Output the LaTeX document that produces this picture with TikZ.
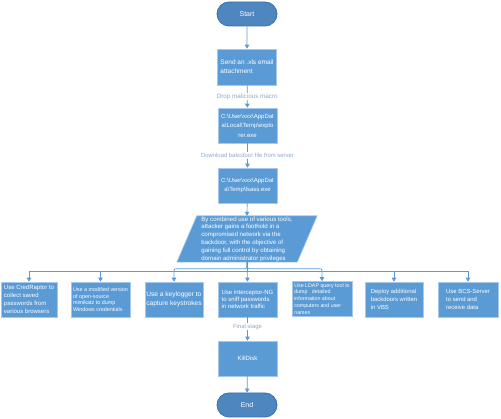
\documentclass[tikz,border=0pt]{standalone}
\usepackage{fontspec}
\setmainfont{Liberation Sans}
\usetikzlibrary{arrows.meta,shapes.misc}
\definecolor{boxblue}{HTML}{5B9BD5}
\definecolor{boxedge}{HTML}{A7C8EA}
\definecolor{termblue}{HTML}{4E86C0}
\definecolor{termedge}{HTML}{3B6FA6}
\definecolor{linkblue}{HTML}{5B9BD5}
\definecolor{lblcol}{HTML}{8EA9C9}
\newcommand{\bs}{\textbackslash}
\newcommand{\fs}[2]{\fontsize{#1}{#2}\selectfont}
\begin{document}
\begin{tikzpicture}[x=1pt,y=-1pt,
  proc/.style={rectangle,fill=boxblue,draw=boxedge,line width=0.6pt,text=white,
    minimum width=59pt,minimum height=35pt,inner sep=0pt,align=left},
  term/.style={rounded rectangle,fill=termblue,draw=termedge,line width=0.8pt,
    text=white,minimum width=60pt,minimum height=24pt,inner sep=0pt},
  txt/.style={text=white,inner sep=0pt,align=left},
  link/.style={draw=linkblue,line width=0.7pt,-{Triangle[width=4.5pt,length=4pt]}},
  lbl/.style={fill=white,text=lblcol,inner sep=1pt}]
\useasboundingbox (0,0) rectangle (501,419);

% main column
\node[term,font=\fs{7}{8}] (start) at (247,14) {Start};
\node[proc,minimum height=36pt,font=\fs{6.5}{9}] (send) at (247,67) {Send an .xls email\\attachment};
\node[proc,align=center,font=\fs{6}{9.5}] (expl) at (247.5,125.5) {C:\bs User\bs xxx\bs AppDat\\a\bs Local\bs Temp\bs explo\\rer.exe};
\node[proc,align=center,font=\fs{6}{8.5}] (lsass) at (247.5,185.5) {C:\bs User\bs xxx\bs AppDat\\a\bs Temp\bs lsass.exe};

% parallelogram
\node[minimum width=120pt,minimum height=46pt,inner sep=0pt] (p) at (247,239) {};
\draw[fill=boxblue,draw=boxedge,line width=0.6pt]
  ([xshift=-10pt]p.south west) -- ([xshift=-10pt]p.south east)
  -- ([xshift=10pt]p.north east) -- ([xshift=10pt]p.north west) -- cycle;
\node[txt,font=\fs{6.1}{7.8}] (ptext) at (p.center) {By combined use of various tools,\\attacker gains a foothold in a\\compromised network via the\\backdoor, with the objective of\\gaining full control by obtaining\\domain administrator privileges};

% row of tools
\node[proc,minimum width=56pt,font=\fs{6}{7.8}] (b1) at (29,299.5) {Use CredRaptor to\\collect saved\\passwords from\\various browsers};
\node[proc,font=\fs{5.4}{6.8}] (b2) at (100.5,299.5) {Use a modified version\\of open-source\\mimikatz to dump\\Windows credentials};
\node[proc,minimum width=58pt,font=\fs{6.6}{9}] (b3) at (174,299.5) {Use a keylogger to\\capture keystrokes};
\node[proc,font=\fs{6}{7.3}] (b4) at (247.5,299.5) {Use interceptor-NG\\to sniff passwords\\in network traffic};
\node[proc,minimum width=60pt,font=\fs{5.3}{6.9}] (b5) at (322,299) {Use LDAP query tool to\\dump \ \ detailed\\information about\\computers and user\\names};
\node[proc,minimum width=58pt,font=\fs{5.9}{8}] (b6) at (394,299.5) {Deploy additional\\backdoors written\\in VBS};
\node[proc,minimum width=60pt,font=\fs{5.9}{8}] (b7) at (468,299.5) {Use BCS-Server\\to send and\\receive data};

% final
\node[proc,minimum height=35pt,align=center,font=\fs{6.1}{8}] (kill) at (247.5,358.5) {KillDisk};
\node[term,font=\fs{7}{8}] (end) at (247,405) {End};

% connectors
\draw[link] (start) -- (send);
\draw[link] (send) -- (expl) node[lbl,midway,font=\fs{6.3}{7}] (l1) {Drop malicious macro};
\draw[link] (expl) -- (lsass) node[lbl,midway,font=\fs{5.9}{7}] (l2) {Download bakcdoor file from server};
\draw[link] (lsass) -- (p.north);
\draw[link] (p.south) -- (b4.north);
\draw[link] (p.south) -- ++(0,9) -| (b1.north);
\draw[link] (p.south) -- ++(0,9) -| (b2.north);
\draw[link,rounded corners=2pt] (p.south) -- ++(0,6.5) -| (b3.north);
\draw[link,rounded corners=2pt] (p.south) -- ++(0,6.5) -| (b5.north);
\draw[link] (p.south) -- ++(0,9) -| (b6.north);
\draw[link] (p.south) -- ++(0,9) -| (b7.north);
\draw[link] (b4) -- (kill) node[lbl,pos=0.4,font=\fs{5.9}{7}] (l3) {Final stage};
\draw[link] (kill) -- (end);
\end{tikzpicture}
\end{document}
